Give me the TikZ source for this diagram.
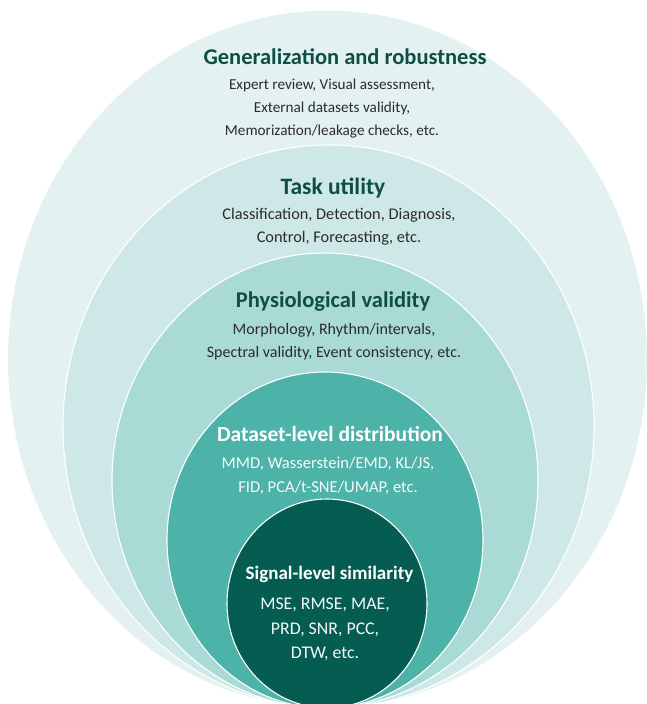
\documentclass[tikz,border=0pt]{standalone}
\usepackage{fontspec}
\setmainfont{Carlito}
\definecolor{lvA}{HTML}{E3F2F1}
\definecolor{lvB}{HTML}{CDE8E7}
\definecolor{lvC}{HTML}{A9DAD6}
\definecolor{lvD}{HTML}{4DB2A8}
\definecolor{lvE}{HTML}{055C51}
\definecolor{ttl}{HTML}{0F4E45}
\definecolor{bdy}{HTML}{2B2B2B}
\tikzset{
  layer/.style={draw=white, line width=1.1pt},
  ttlD/.style={text=ttl, inner sep=0pt},
  ttlL/.style={text=white, inner sep=0pt},
  bdyD/.style={text=bdy, align=center, inner sep=0pt},
  bdyL/.style={text=white!94!lvD, align=center, inner sep=0pt},
}
\begin{document}
\begin{tikzpicture}[x=1pt,y=-1pt]
\useasboundingbox (0,0) rectangle (647,704);
\begin{scope}
\clip (0,0) rectangle (647,704);
\fill[lvA, layer] (327.5,359) ellipse [x radius=320, y radius=349];
\fill[lvB, layer] (328.5,426.5) ellipse [x radius=265.5, y radius=281.5];
\fill[lvC, layer] (325,480.5) ellipse [x radius=213, y radius=227.5];
\fill[lvD, layer] (325,540) ellipse [x radius=158, y radius=168];
\fill[lvE, layer] (327,603.5) ellipse [x radius=100, y radius=104.5];
\end{scope}
\node[ttlD, font=\fontsize{22.5}{26}\selectfont\bfseries] (t1) at (345,57) {Generalization and robustness};
\node[bdyD, font=\fontsize{15.2}{22.6}\selectfont] (b1) at (332,108.5) {Expert review, Visual assessment,\\External datasets validity,\\Memorization/leakage checks, etc.};
\node[ttlD, font=\fontsize{23.5}{26}\selectfont\bfseries] (t2) at (333,188) {Task utility};
\node[bdyD, font=\fontsize{16.3}{23}\selectfont] (b2) at (339,226.5) {Classification, Detection, Diagnosis,\\Control, Forecasting, etc.};
\node[ttlD, font=\fontsize{22.5}{26}\selectfont\bfseries] (t3) at (333,302) {Physiological validity};
\node[bdyD, font=\fontsize{16}{23}\selectfont] (b3) at (334,341.5) {Morphology, Rhythm/intervals,\\Spectral validity, Event consistency, etc.};
\node[ttlL, font=\fontsize{21.5}{26}\selectfont\bfseries] (t4) at (330,434) {Dataset-level distribution};
\node[bdyL, font=\fontsize{16.6}{24}\selectfont] (b4) at (328,476) {MMD, Wasserstein/EMD, KL/JS,\\FID, PCA/t-SNE/UMAP, etc.};
\node[ttlL, font=\fontsize{19}{24}\selectfont\bfseries] (t5) at (329.5,574) {Signal-level similarity};
\node[bdyL, font=\fontsize{17.8}{24.5}\selectfont] (b5) at (325,629.5) {MSE, RMSE, MAE,\\PRD, SNR, PCC,\\DTW, etc.};
\end{tikzpicture}
\end{document}
